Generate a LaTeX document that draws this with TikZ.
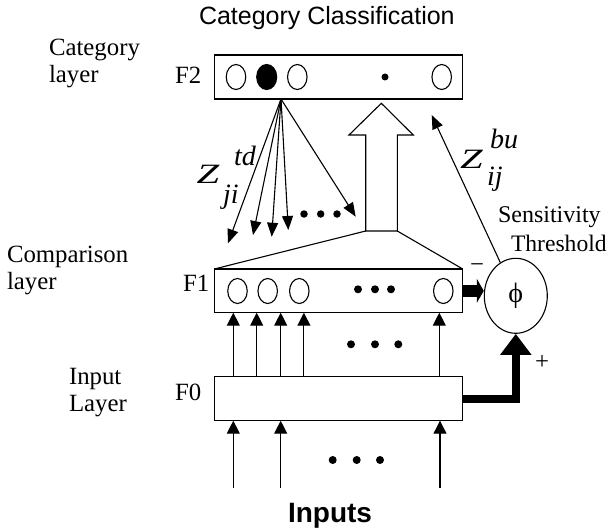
\documentclass[tikz,border=0pt]{standalone}
\usepackage{fontspec}
\usepackage{graphicx}
\setmainfont{Liberation Serif}
\setsansfont{Liberation Sans}
\usetikzlibrary{arrows.meta,shapes.geometric,calc}

\begin{document}
\begin{tikzpicture}[x=1pt,y=-1pt,
  lab/.style={inner sep=0pt, outer sep=0pt, anchor=base west, font=\fontsize{24.8}{27}\selectfont},
  zfont/.style={inner sep=0pt, outer sep=0pt, anchor=base west, font=\fontsize{28}{30}\selectfont\itshape},
  layerbox/.style={draw, line width=1.1pt, minimum width=248.4pt, minimum height=44pt, inner sep=0pt, outer sep=0pt},
  unit/.style={draw, ellipse, line width=1.1pt, minimum width=19.5pt, minimum height=25pt, inner sep=0pt},
  dotmark/.style={fill, circle, minimum size=8pt, inner sep=0pt},
  thinline/.style={line width=1.1pt},
  tdarrow/.style={thinline, -{Triangle[length=14pt,width=11pt]}},
  uparrow/.style={thinline, -{Triangle[length=13pt,width=13pt]}}
]
\useasboundingbox (0,0) rectangle (610,532);

% layer boxes
\node[layerbox] (F2box) at (338.5,77) {};
\node[layerbox, minimum height=43.7pt] (F1box) at (338.5,290.85) {};
\node[layerbox] (F0box) at (338.5,398.7) {};

% F2 units
\node[unit] (c21) at (236,77) {};
\node[unit, fill=black, minimum width=20pt] (c22) at (266.7,77) {};
\node[unit] (c23) at (297.3,77) {};
\node[dotmark, minimum size=7pt] (d2) at (385,77) {};
\node[unit] (c2n) at (441.7,77) {};

% F1 units
\node[unit] (c11) at (237.5,291) {};
\node[unit] (c12) at (267.7,291) {};
\node[unit] (c13) at (299.3,291) {};
\node[dotmark] (d11) at (358,289.3) {};
\node[dotmark] (d12) at (375,289.3) {};
\node[dotmark] (d13) at (391,289.3) {};
\node[unit] (c1n) at (443.3,291) {};

% orienting subsystem
\node[draw, ellipse, thinline, minimum width=63pt, minimum height=75pt, inner sep=0pt,
      font=\fontsize{28}{30}\selectfont] (phi) at (515.8,295.8) {ϕ};

% top-down weights
\coordinate (tdsrc) at ([xshift=66.7pt]F2box.south west);
\coordinate (td1) at (228,243.3);
\coordinate (td2) at (253,235);
\coordinate (td3) at (271.7,236.7);
\coordinate (td4) at (288.3,230);
\coordinate (td5) at (355.7,216.7);
\draw[tdarrow] (tdsrc) -- (td1);
\draw[tdarrow] (tdsrc) -- (td2);
\draw[tdarrow] (tdsrc) -- (td3);
\draw[tdarrow] (tdsrc) -- (td4);
\draw[tdarrow] (tdsrc) -- (td5);
\node[dotmark, minimum size=7.5pt] (tdd1) at (304,214) {};
\node[dotmark, minimum size=7.5pt] (tdd2) at (320.7,214) {};
\node[dotmark, minimum size=7.5pt] (tdd3) at (337,214) {};

% hollow arrow F1 -> F2
\coordinate (shL) at (365.7,231);
\coordinate (shR) at (397.3,231);
\coordinate (hdL) at (365.7,135);
\coordinate (hdR) at (397.3,135);
\coordinate (wgL) at (349,135);
\coordinate (wgR) at (413.3,135);
\coordinate (tip) at (381.3,103.3);
\draw[thinline, line join=miter] (shL) -- (hdL) -- (wgL) -- (tip) -- (wgR) -- (hdR) -- (shR) -- cycle;
\draw[thinline] (F1box.north west) -- (shL);
\draw[thinline] (F1box.north east) -- (shR);

% bottom-up weights
\coordinate (butip) at (431.7,115);
\draw[tdarrow] (phi) -- (butip);

% F0 -> F1
\coordinate (up1) at ([xshift=19pt]F0box.north west);
\coordinate (up2) at ([xshift=42.4pt]F0box.north west);
\coordinate (up3) at ([xshift=66.4pt]F0box.north west);
\coordinate (up4) at ([xshift=89.6pt]F0box.north west);
\coordinate (up5) at ([xshift=225pt]F0box.north west);
\draw[uparrow] (up1) -- (up1 |- F1box.south);
\draw[uparrow] (up2) -- (up2 |- F1box.south);
\draw[uparrow] (up3) -- (up3 |- F1box.south);
\draw[uparrow] (up4) -- (up4 |- F1box.south);
\draw[uparrow] (up5) -- (up5 |- F1box.south);
\node[dotmark] (md1) at (351,344.3) {};
\node[dotmark] (md2) at (375,344.3) {};
\node[dotmark] (md3) at (398.3,344.3) {};

% inputs -> F0
\coordinate (ina) at ($(F0box.south west)+(19,67.6)$);
\coordinate (inb) at ($(F0box.south west)+(66.4,67.6)$);
\coordinate (inc) at ($(F0box.south west)+(225.7,67.6)$);
\draw[uparrow] (ina) -- (ina |- F0box.south);
\draw[uparrow] (inb) -- (inb |- F0box.south);
\draw[uparrow] (inc) -- (inc |- F0box.south);
\node[dotmark] (id1) at (332.7,460) {};
\node[dotmark] (id2) at (356.7,460) {};
\node[dotmark] (id3) at (380,460) {};

% thick arrows into the orienting subsystem
\draw[line width=12pt, -{Triangle[length=7pt,width=24pt]}] (F1box.east) -- (F1box.east -| phi.west);
\draw[line width=8pt, line join=miter, -{Triangle[length=21pt,width=30pt]}] (F0box.east) -| (phi.south);

% labels
\node[lab, font=\sffamily\fontsize{25}{27}\selectfont] (title) at (199,25) {Category Classification};
\node[lab] (catA) at (49,56) {Category};
\node[lab] (catB) at (49,83) {layer};
\node[lab] (cmpA) at (7,262) {Comparison};
\node[lab] (cmpB) at (7,289) {layer};
\node[lab] (inpA) at (69,384) {Input};
\node[lab] (inpB) at (69,411.5) {Layer};
\node[lab, font=\fontsize{24}{27}\selectfont] (senA) at (498,222.7) {Sensitivity};
\node[lab, font=\fontsize{23.6}{27}\selectfont] (senB) at (511,251.5) {Threshold};
\node[lab] (lF2) at (175,83.3) {F2};
\node[lab] (lF1) at (183,291.7) {F1};
\node[lab] (lF0) at (175,400) {F0};
\node[lab] (minus) at (470,272) {−};
\node[lab] (plus) at (535,369.5) {+};
\node[lab, font=\sffamily\bfseries\fontsize{28}{30}\selectfont] (inputs) at (288,522) {Inputs};

\node[zfont] (zTD) at (196.7,183.3) {\scalebox{1.45}[1]{Z}};
\node[zfont] (tdSup) at (234,165) {td};
\node[zfont] (tdSub) at (223,203) {ji};
\node[zfont] (zBU) at (460,168) {\scalebox{1.45}[1]{Z}};
\node[zfont] (buSup) at (490,148.3) {bu};
\node[zfont] (buSub) at (487,185) {ij};
\end{tikzpicture}
\end{document}
